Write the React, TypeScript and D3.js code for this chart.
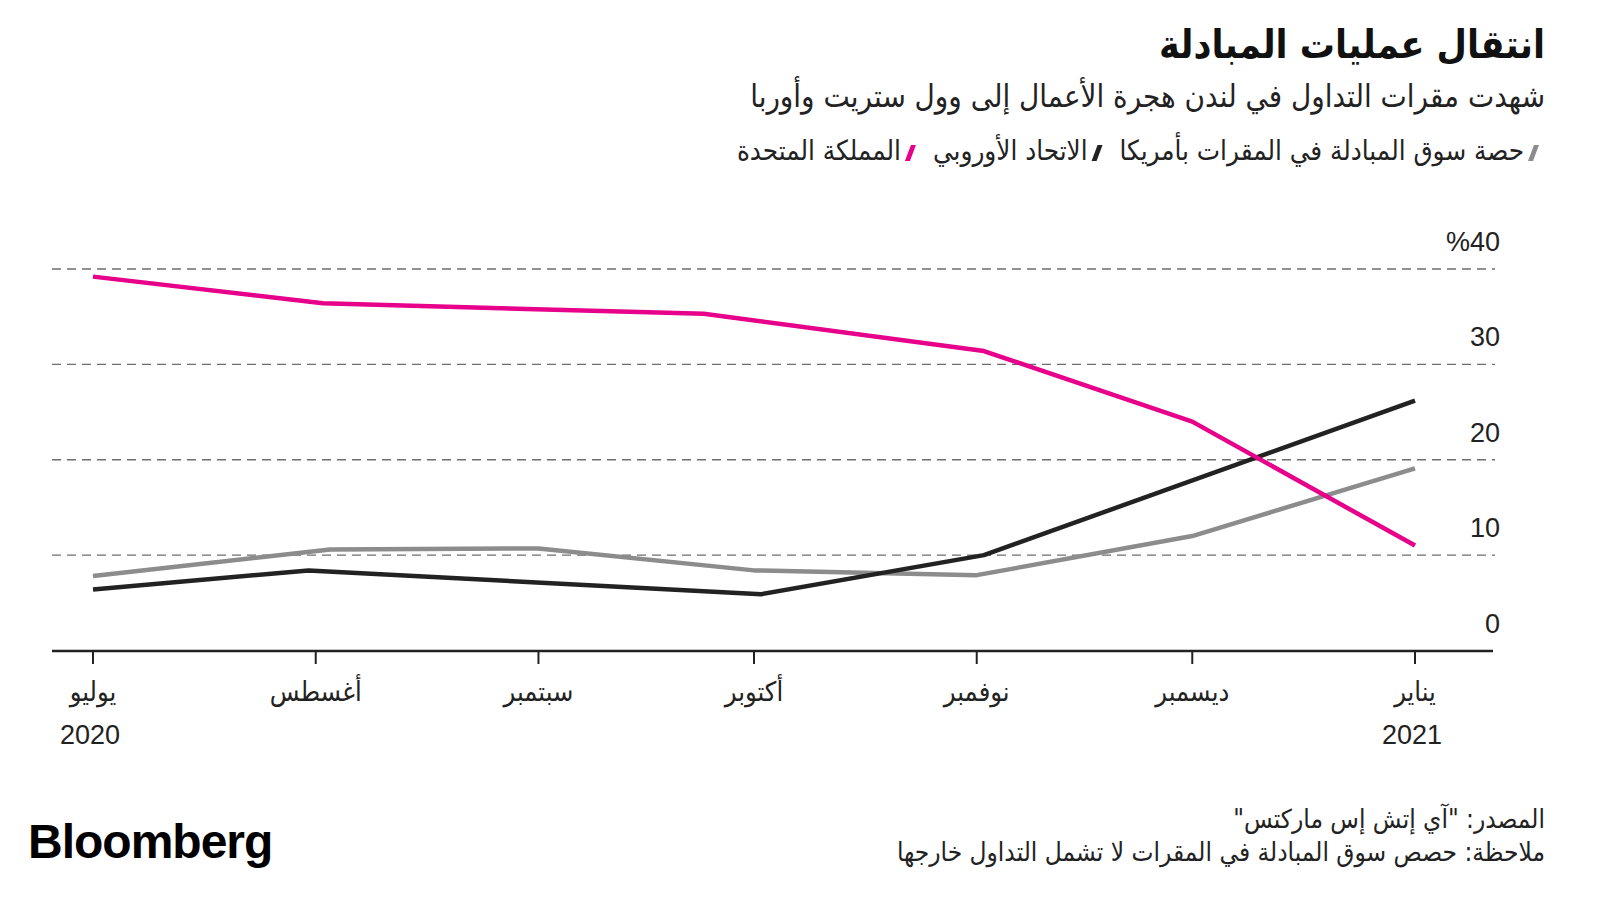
import { useEffect, useRef } from 'react';
import * as d3 from 'd3';

const months = ['يوليو', 'أغسطس', 'سبتمبر', 'أكتوبر', 'نوفمبر', 'ديسمبر', 'يناير'];
const yTicks = [0, 10, 20, 30, 40];

// share of swap trading by venue location (%)
const ukDates = ['2020-07-01', '2020-08-02', '2020-09-24', '2020-11-02', '2020-12-01', '2021-01-01'];
const ukValues = [39.2, 36.4, 35.3, 31.4, 24.0, 11.0];
const usDates = ['2020-07-01', '2020-08-03', '2020-09-01', '2020-10-01', '2020-11-01', '2020-12-01', '2021-01-01'];
const usValues = [7.8, 10.6, 10.7, 8.4, 7.9, 12.0, 19.1];
const euDates = ['2020-07-01', '2020-07-31', '2020-10-02', '2020-11-02', '2021-01-01'];
const euValues = [6.4, 8.4, 5.9, 10.0, 26.2];

const legendItems = [
  { label: 'حصة سوق المبادلة في المقرات بأمريكا', color: '#8c8c8c' },
  { label: 'الاتحاد الأوروبي', color: '#222222' },
  { label: 'المملكة المتحدة', color: '#e6008a' },
];

const FONT = '"DejaVu Sans Condensed", "DejaVu Sans", sans-serif';
const NUM_FONT = '"Liberation Sans", Arial, sans-serif';

export default function App() {
  const svgRef = useRef<SVGSVGElement>(null);

  useEffect(() => {
    document.body.style.margin = '0';
    if (!svgRef.current) return;
    const svg = d3.select(svgRef.current);
    svg.selectAll('*').remove();

    const parse = d3.timeParse('%Y-%m-%d');
    const x = d3.scaleTime()
      .domain([parse('2020-07-01')!, parse('2021-01-01')!])
      .range([93, 1415]);
    const y = d3.scaleLinear().domain([0, 40]).range([650.5, 269]);

    const rtlText = (sel: d3.Selection<SVGTextElement, unknown, null, undefined>) =>
      sel.attr('direction', 'rtl').attr('text-anchor', 'start').attr('font-family', FONT).attr('fill', '#111');

    // title block
    svg.append('text').call(rtlText).attr('x', 1545).attr('y', 58)
      .attr('font-size', 39).attr('font-weight', 700).text('انتقال عمليات المبادلة');
    svg.append('text').call(rtlText).attr('x', 1545).attr('y', 107)
      .attr('font-size', 31).attr('fill', '#222').text('شهدت مقرات التداول في لندن هجرة الأعمال إلى وول ستريت وأوربا');

    // legend
    let lx = 1538;
    legendItems.forEach((item) => {
      const ly = 160;
      svg.append('polygon')
        .attr('points', [[lx - 4, ly - 15], [lx + 1, ly - 15], [lx - 5, ly + 1], [lx - 10, ly + 1]].map((p) => p.join(',')).join(' '))
        .attr('fill', item.color);
      const t = svg.append('text').call(rtlText).attr('x', lx - 14).attr('y', ly)
        .attr('font-size', 27.5).attr('fill', '#222').text(item.label);
      const w = (t.node() as SVGTextElement).getComputedTextLength();
      lx = lx - 14 - w - 18;
    });

    // gridlines
    svg.append('g').selectAll('line').data(yTicks.filter((d) => d > 0)).join('line')
      .attr('x1', 52).attr('x2', 1495)
      .attr('y1', (d) => y(d)).attr('y2', (d) => y(d))
      .attr('stroke', '#6e6e6e').attr('stroke-width', 1.3).attr('stroke-dasharray', '9,6');

    // y labels
    svg.append('g').selectAll('text').data(yTicks).join('text')
      .attr('x', 1500).attr('y', (d) => y(d) - 18)
      .attr('text-anchor', 'end').attr('font-family', NUM_FONT).attr('font-size', 27).attr('fill', '#222')
      .text((d) => (d === 40 ? '%40' : String(d)));

    // x axis
    const monthDates = d3.timeMonth.range(parse('2020-07-01')!, parse('2021-01-02')!);
    svg.append('line').attr('x1', 52).attr('x2', 1493).attr('y1', 651).attr('y2', 651)
      .attr('stroke', '#222').attr('stroke-width', 2.5);
    svg.append('g').selectAll('line').data(monthDates).join('line')
      .attr('x1', (d) => x(d)).attr('x2', (d) => x(d)).attr('y1', 651).attr('y2', 664)
      .attr('stroke', '#222').attr('stroke-width', 2);
    svg.append('g').selectAll('text').data(monthDates).join('text')
      .attr('x', (d) => x(d)).attr('y', 701)
      .attr('text-anchor', 'middle').attr('font-family', FONT).attr('font-size', 27).attr('fill', '#222')
      .text((_, i) => months[i]);
    [[monthDates[0], '2020'], [monthDates[monthDates.length - 1], '2021']].forEach(([d, label]) => {
      svg.append('text').attr('x', x(d as Date) - 3).attr('y', 744)
        .attr('text-anchor', 'middle').attr('font-family', NUM_FONT).attr('font-size', 27).attr('fill', '#222')
        .text(label as string);
    });

    // lines
    const line = d3.line<[Date, number]>().x((d) => x(d[0])).y((d) => y(d[1]));
    const series: { dates: string[]; values: number[]; color: string }[] = [
      { dates: usDates, values: usValues, color: '#8c8c8c' },
      { dates: euDates, values: euValues, color: '#222222' },
      { dates: ukDates, values: ukValues, color: '#e6008a' },
    ];
    series.forEach((s) => {
      const pts = s.dates.map((d, i) => [parse(d)!, s.values[i]] as [Date, number]);
      svg.append('path').datum(pts).attr('d', line)
        .attr('fill', 'none').attr('stroke', s.color).attr('stroke-width', 4.5)
        .attr('stroke-linejoin', 'round');
    });

    // footer
    svg.append('text').call(rtlText).attr('x', 1545).attr('y', 828)
      .attr('font-size', 26).attr('fill', '#222').text('المصدر: "آي إتش إس ماركتس"');
    svg.append('text').call(rtlText).attr('x', 1545).attr('y', 861)
      .attr('font-size', 26).attr('fill', '#222').text('ملاحظة: حصص سوق المبادلة في المقرات لا تشمل التداول خارجها');
    svg.append('text').attr('x', 28).attr('y', 858)
      .attr('font-family', NUM_FONT).attr('font-weight', 700)
      .attr('font-size', 48).attr('letter-spacing', -1).attr('fill', '#000').text('Bloomberg');
  }, []);

  return <svg ref={svgRef} width={1600} height={900} style={{ display: 'block', background: '#fff' }} />;
}
